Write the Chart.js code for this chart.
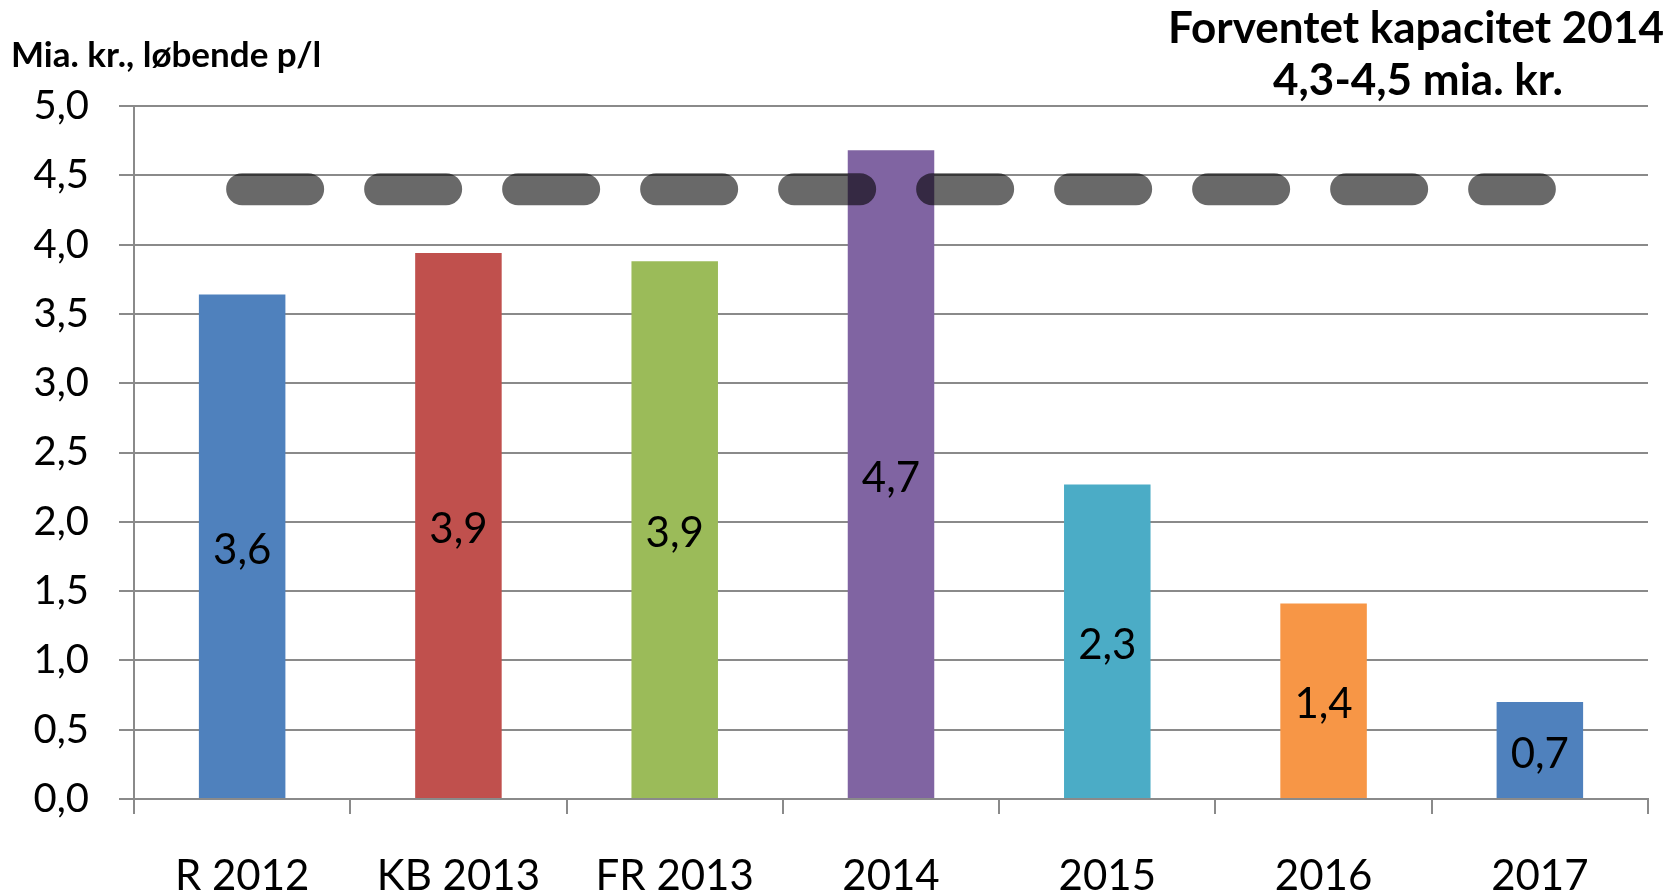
<!DOCTYPE html>
<html>
<head>
<meta charset="utf-8">
<script src="https://cdn.jsdelivr.net/npm/chart.js@4.4.0/dist/chart.umd.min.js"></script>
<style>
html,body{margin:0;padding:0;background:#ffffff;}
canvas{display:block;}
</style>
</head>
<body>
<canvas id="c" width="1671" height="894"></canvas>
<script>
// ---- data ----
const categories = ['R 2012', 'KB 2013', 'FR 2013', '2014', '2015', '2016', '2017'];
const values = [3.64, 3.94, 3.88, 4.68, 2.27, 1.41, 0.70];
const valueLabels = ['3,6', '3,9', '3,9', '4,7', '2,3', '1,4', '0,7'];
const capacityLevel = [4.4, 4.4, 4.4, 4.4, 4.4, 4.4, 4.4];
const barColors = ['#4F81BD', '#C0504D', '#9BBB59', '#8064A2', '#4BACC6', '#F79646', '#4F81BD'];
const yTickValues = [0, 0.5, 1, 1.5, 2, 2.5, 3, 3.5, 4, 4.5, 5];
const unitTitle = 'Mia. kr., løbende p/l';
const capacityTitle = ['Forventet kapacitet 2014', '4,3-4,5 mia. kr.'];

const FONT = "Lato, 'Open Sans', 'DejaVu Sans', sans-serif";
const GRID = '#8a8a8a';

const barLabelPlugin = {
  id: 'barLabels',
  afterDatasetsDraw(chart) {
    const meta = chart.getDatasetMeta(1);
    const ctx = chart.ctx;
    ctx.save();
    ctx.font = '42px ' + FONT;
    ctx.fillStyle = '#000000';
    ctx.textAlign = 'center';
    ctx.textBaseline = 'middle';
    meta.data.forEach((bar, i) => {
      const y = (bar.y + bar.base) / 2;
      ctx.fillText(valueLabels[i], bar.x, y + 4);
    });
    ctx.restore();
  }
};

const titlePlugin = {
  id: 'titles',
  afterDraw(chart) {
    const ctx = chart.ctx;
    ctx.save();
    ctx.fillStyle = '#000000';
    ctx.textBaseline = 'alphabetic';
    ctx.font = 'bold 35px ' + FONT;
    ctx.textAlign = 'left';
    ctx.fillText(unitTitle, 11, 67);
    ctx.font = 'bold 44px ' + FONT;
    ctx.textAlign = 'center';
    ctx.fillText(capacityTitle[0], 1416, 43);
    ctx.fillText(capacityTitle[1], 1418, 95);
    ctx.restore();
  }
};

Chart.defaults.font.family = FONT;
Chart.defaults.color = '#000000';

new Chart(document.getElementById('c'), {
  type: 'bar',
  data: {
    labels: categories,
    datasets: [
      {
        type: 'line',
        data: capacityLevel,
        order: 0,
        borderColor: 'rgba(0,0,0,0.59)',
        borderWidth: 32,
        borderDash: [66, 72],
        borderCapStyle: 'round',
        borderJoinStyle: 'round',
        pointRadius: 0,
        pointHoverRadius: 0,
        fill: false,
        tension: 0
      },
      {
        type: 'bar',
        data: values,
        order: 1,
        backgroundColor: barColors,
        borderWidth: 0,
        barPercentage: 0.4,
        categoryPercentage: 1.0
      }
    ]
  },
  options: {
    responsive: false,
    devicePixelRatio: 1,
    animation: false,
    layout: { padding: { left: 0, right: 23, top: 106, bottom: 0 } },
    plugins: {
      legend: { display: false },
      tooltip: { enabled: false },
      title: { display: false }
    },
    scales: {
      x: {
        offset: true,
        afterFit(s) { s.height = 95; },
        grid: {
          offset: true,
          drawOnChartArea: false,
          drawTicks: true,
          tickLength: 15,
          color: GRID,
          lineWidth: 2
        },
        border: { display: true, color: GRID, width: 2 },
        ticks: {
          font: { size: 42 },
          color: '#000000',
          padding: 37,
          maxRotation: 0,
          autoSkip: false
        }
      },
      y: {
        min: 0,
        max: 5,
        afterFit(s) { s.width = 134; },
        afterBuildTicks(s) { s.ticks = yTickValues.map(v => ({ value: v })); },
        grid: {
          drawOnChartArea: true,
          drawTicks: true,
          tickLength: 15,
          color: GRID,
          lineWidth: 2
        },
        border: { display: true, color: GRID, width: 2 },
        ticks: {
          font: { size: 40 },
          color: '#000000',
          padding: 30,
          callback: (v) => Number(v).toFixed(1).replace('.', ',')
        }
      }
    }
  },
  plugins: [barLabelPlugin, titlePlugin]
});
</script>
</body>
</html>
